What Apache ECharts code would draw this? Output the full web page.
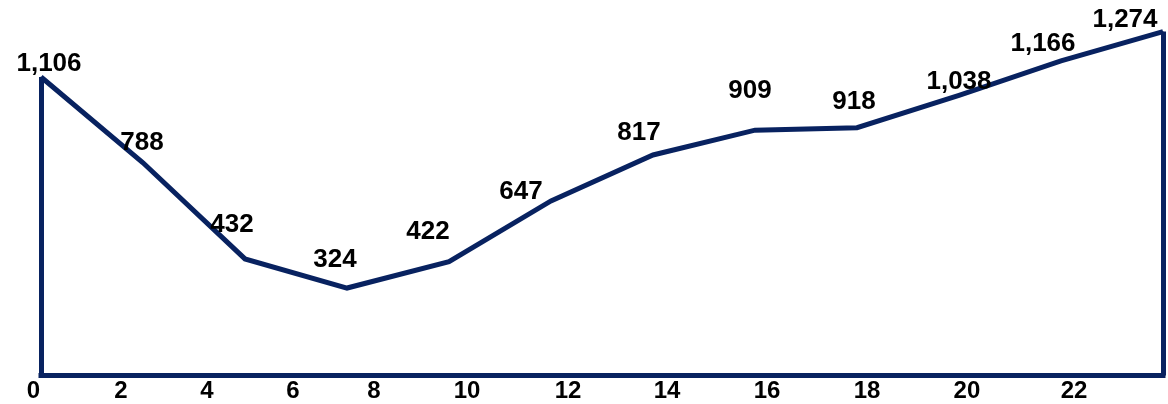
<!DOCTYPE html>
<html>
<head>
<meta charset="utf-8">
<script src="https://cdn.jsdelivr.net/npm/echarts@6/dist/echarts.min.js"></script>
<style>
  html, body { margin: 0; padding: 0; background: #ffffff; }
  #chart { width: 1168px; height: 404px; }
</style>
</head>
<body>
<div id="chart"></div>
<script>
// ---- data ----
const hours = ['0', '2', '4', '6', '8', '10', '12', '14', '16', '18', '20', '22'];
const values = [1106, 788, 432, 324, 422, 647, 817, 909, 918, 1038, 1166, 1274];
// tick labels of the hour axis, and where they sit on that axis
const tickLabels = ['0', '2', '4', '6', '8', '10', '12', '14', '16', '18', '20', '22'];
const tickLabelAt = [-0.287, 1.590, 3.431, 5.271, 7.005, 8.996, 11.158, 13.277, 15.417, 17.557, 19.697, 21.988];
// styling: shift of each value label from its point (px)
const labelShift = [[8, -13], [-1, -20], [-13, -34], [-12, -28], [-21, -30], [-30, -9],
                    [-14, -22], [-5, -39], [-3, -26], [0, -13], [-18, -17], [-38, -12]];

const NAVY = '#082260';
const last = values.length - 1;

const chart = echarts.init(document.getElementById('chart'), null, { renderer: 'canvas' });

chart.setOption({
  animation: false,
  backgroundColor: '#ffffff',
  grid: [
    { left: 41, right: 5, top: 24.6, bottom: 28.5, containLabel: false },
    { left: 0, right: 0, top: 24.6, bottom: 28.5, containLabel: false }
  ],
  xAxis: [
    {
      type: 'category', gridIndex: 0, data: hours, boundaryGap: false,
      axisLine: { show: false }, axisTick: { show: false }, axisLabel: { show: false },
      splitLine: { show: false }
    },
    {
      type: 'value', gridIndex: 1, min: -1, max: 24,
      axisLine: { show: false }, axisTick: { show: false }, splitLine: { show: false },
      axisLabel: {
        show: true,
        customValues: tickLabelAt,
        formatter: function (v) {
          const i = tickLabelAt.indexOf(v);
          return i >= 0 ? tickLabels[i] : '';
        },
        color: '#000000',
        fontFamily: 'Liberation Sans, Arial, sans-serif',
        fontWeight: 'bold',
        fontSize: 24,
        margin: 4,
        showMinLabel: true,
        showMaxLabel: true,
        hideOverlap: false
      }
    }
  ],
  yAxis: [
    { type: 'value', gridIndex: 0, min: 0, max: 1300, show: false, splitLine: { show: false } },
    { type: 'value', gridIndex: 1, min: 0, max: 1300, show: false, splitLine: { show: false } }
  ],
  series: [
    {
      type: 'line',
      xAxisIndex: 0, yAxisIndex: 0,
      data: values.map(function (v, i) {
        return {
          value: v,
          label: { offset: labelShift[i] }
        };
      }),
      clip: false,
      showSymbol: true,
      symbol: 'circle',
      symbolSize: 1,
      itemStyle: { color: NAVY },
      lineStyle: { color: NAVY, width: 5, join: 'miter' },
      label: {
        show: true,
        position: 'inside',
        align: 'center',
        verticalAlign: 'middle',
        color: '#000000',
        fontFamily: 'Liberation Sans, Arial, sans-serif',
        fontWeight: 'bold',
        fontSize: 26,
        formatter: function (p) { return p.value.toLocaleString('en-US'); }
      },
      markLine: {
        silent: true,
        symbol: ['none', 'none'],
        label: { show: false },
        lineStyle: { color: NAVY, width: 5, type: 'solid', cap: 'butt' },
        emphasis: { disabled: true },
        data: [
          [{ coord: [0, 0] }, { coord: [0, values[0]] }],
          [{ coord: [last, 0] }, { coord: [last, values[last]] }],
          [{ coord: [0, 0], lineStyle: { cap: 'square' } }, { coord: [last, 0] }]
        ]
      }
    }
  ]
});
</script>
</body>
</html>
